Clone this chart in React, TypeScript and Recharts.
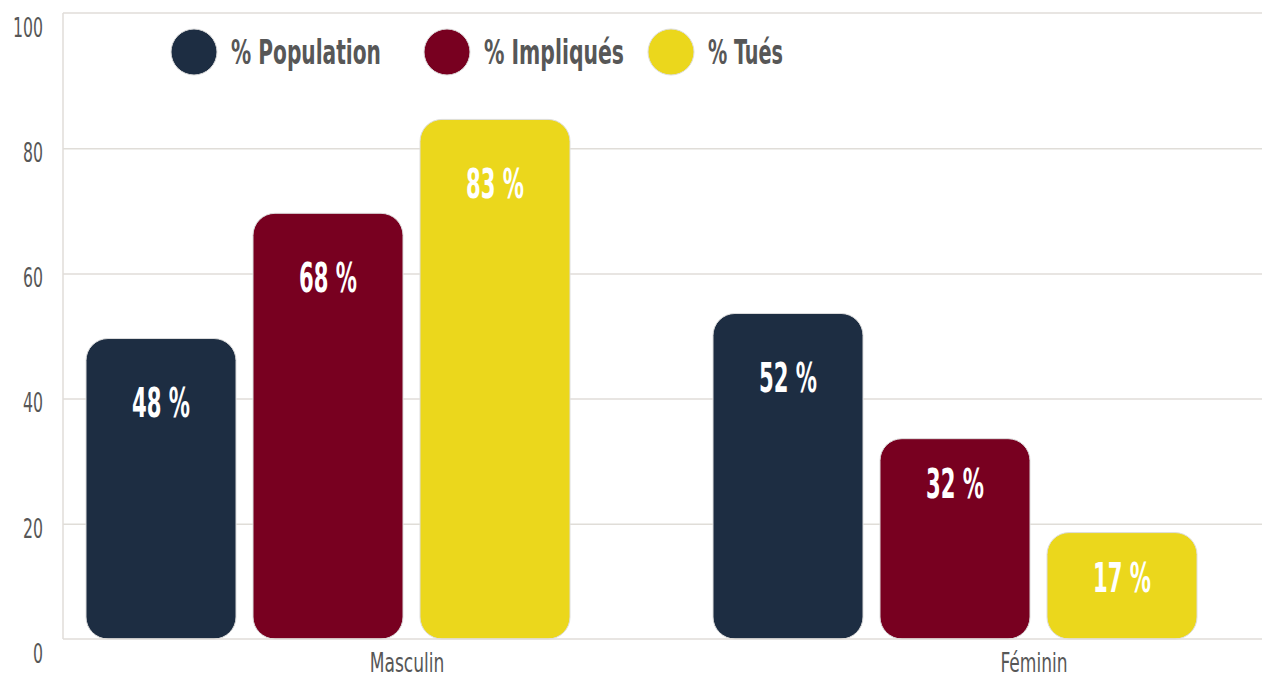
import { BarChart, Bar, XAxis, YAxis, CartesianGrid, Legend, LabelList } from 'recharts';

const categories = ['Masculin', 'Féminin'];
const population = [48, 52];
const impliques = [68, 32];
const tues = [83, 17];
const yTicks = [0, 20, 40, 60, 80, 100];
const gridValues = [20, 40, 60, 80, 100];
const seriesNames = ['% Population', '% Impliqués', '% Tués'];

const data = categories.map((c, i) => ({
  sexe: c,
  population: population[i],
  impliques: impliques[i],
  tues: tues[i],
}));

const FONT = "'Liberation Sans Narrow', 'DejaVu Sans Condensed', 'Roboto', sans-serif";
const GRID = '#e0ddd8';
const TEXT = '#575757';

// legend text widths and spacing
const legendTextW = [150, 140, 75];
const legendGapAfter = [42, 23, 0];

function LegendContent({ payload }: any) {
  const items = [...(payload || [])].sort(
    (a: any, b: any) => seriesNames.indexOf(a.value) - seriesNames.indexOf(b.value)
  );
  return (
    <div style={{ display: 'flex', alignItems: 'center' }}>
      {items.map((p: any, i: number) => (
        <svg
          key={p.value}
          width={48 + 13 + legendTextW[i]}
          height={48}
          style={{ marginRight: legendGapAfter[i], display: 'block', overflow: 'visible' }}
        >
          <circle cx={24} cy={24} r={23} fill={p.color} stroke="#dddddd" strokeWidth={1} />
          <text
            x={61}
            y={24}
            dy="0.36em"
            fontFamily={FONT}
            fontWeight="bold"
            fontSize={34}
            fill={TEXT}
            textLength={legendTextW[i]}
            lengthAdjust="spacingAndGlyphs"
          >
            {p.value}
          </text>
        </svg>
      ))}
    </div>
  );
}

function YTick({ x, y, payload }: any) {
  const s = String(payload.value);
  return (
    <text
      x={x}
      y={y + 14}
      dy="0.36em"
      textAnchor="end"
      fontFamily={FONT}
      fontSize={27}
      fill={TEXT}
      textLength={10 * s.length}
      lengthAdjust="spacingAndGlyphs"
    >
      {s}
    </text>
  );
}

function XTick({ x, y, payload }: any) {
  return (
    <text
      transform={`translate(${x + 79},${y + 33}) scale(0.73,1)`}
      textAnchor="middle"
      fontFamily={FONT}
      fontSize={26}
      fill={TEXT}
    >
      {payload.value}
    </text>
  );
}

function BarLabel({ x, y, width, height, value }: any) {
  const off = height > 250 ? 64 : 45;
  return (
    <text
      x={x + width / 2}
      y={y + off}
      dy="0.36em"
      textAnchor="middle"
      fontFamily={FONT}
      fontWeight="bold"
      fontSize={40}
      fill="#ffffff"
      textLength={58}
      lengthAdjust="spacingAndGlyphs"
    >
      {`${value} %`}
    </text>
  );
}

function gridCoords({ yAxis, offset }: any) {
  return gridValues.map((v) => {
    const py =
      yAxis && typeof yAxis.scale === 'function'
        ? yAxis.scale(v)
        : offset.top + offset.height * (1 - v / 100);
    return v === 100 ? py : py + 10.5;
  });
}

export default function App() {
  return (
    <div style={{ position: 'absolute', left: 0, top: 0, background: '#fff' }}>
      <BarChart
        width={1262}
        height={679}
        data={data}
        margin={{ top: 13, right: 0, bottom: 0, left: 0 }}
        barCategoryGap={71.5}
        barGap={17}
      >
        <CartesianGrid
          vertical={false}
          stroke={GRID}
          strokeWidth={1.5}
          horizontalCoordinatesGenerator={gridCoords}
        />
        <XAxis
          dataKey="sexe"
          height={40}
          padding={{ left: -48.5, right: -6.5 }}
          axisLine={{ stroke: GRID, strokeWidth: 1.5 }}
          tickLine={false}
          tickSize={0}
          tickMargin={0}
          tick={<XTick />}
        />
        <YAxis
          domain={[0, 100]}
          ticks={yTicks}
          width={63}
          axisLine={{ stroke: GRID, strokeWidth: 1.5 }}
          tickLine={false}
          tickSize={0}
          tickMargin={20}
          tick={<YTick />}
          interval={0}
        />
        <Legend
          layout="horizontal"
          verticalAlign="middle"
          align="center"
          content={<LegendContent />}
          wrapperStyle={{ top: 28, left: 170, width: 'auto' }}
        />
        <Bar dataKey="population" name={seriesNames[0]} fill="#1d2d42" stroke="#dddddd" strokeWidth={1} radius={22} legendType="circle" isAnimationActive={false}>
          <LabelList dataKey="population" content={<BarLabel />} />
        </Bar>
        <Bar dataKey="impliques" name={seriesNames[1]} fill="#780020" stroke="#dddddd" strokeWidth={1} radius={22} legendType="circle" isAnimationActive={false}>
          <LabelList dataKey="impliques" content={<BarLabel />} />
        </Bar>
        <Bar dataKey="tues" name={seriesNames[2]} fill="#ebd71c" stroke="#dddddd" strokeWidth={1} radius={22} legendType="circle" isAnimationActive={false}>
          <LabelList dataKey="tues" content={<BarLabel />} />
        </Bar>
      </BarChart>
    </div>
  );
}
